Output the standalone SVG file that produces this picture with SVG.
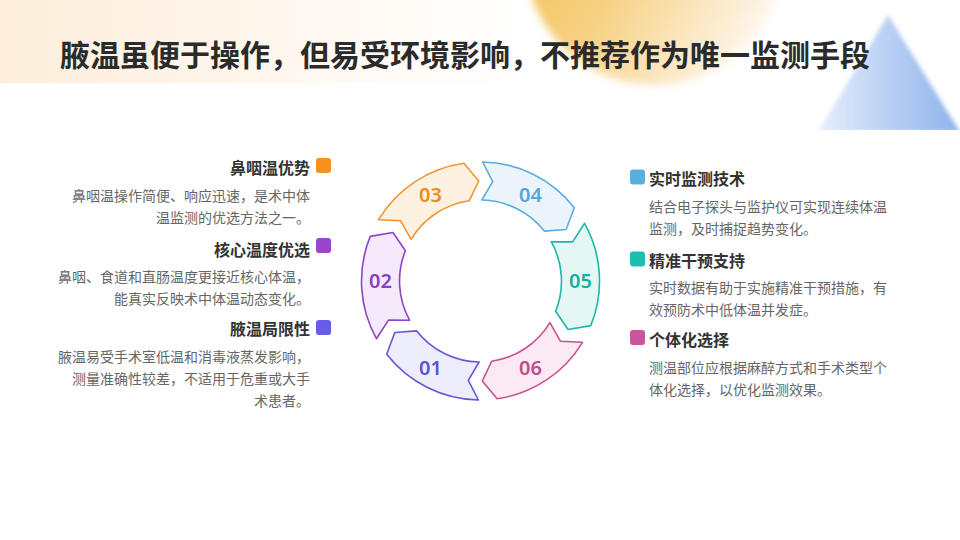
<svg xmlns="http://www.w3.org/2000/svg" width="960" height="540" viewBox="0 0 960 540">
<defs>
<linearGradient id="band" x1="0" y1="0" x2="1" y2="0">
<stop offset="0" stop-color="#fdeedb"/>
<stop offset="0.3" stop-color="#fff7ef"/>
<stop offset="0.55" stop-color="#ffffff"/>
</linearGradient>
<linearGradient id="orange" x1="0" y1="0.2" x2="1" y2="0.8">
<stop offset="0" stop-color="#f2b944"/>
<stop offset="0.45" stop-color="#f7d285"/>
<stop offset="0.8" stop-color="#fcecd0"/>
<stop offset="1" stop-color="#ffffff"/>
</linearGradient>
<linearGradient id="blue" x1="0" y1="0" x2="1" y2="0">
<stop offset="0" stop-color="#e6eefb"/>
<stop offset="0.5" stop-color="#b9cff3"/>
<stop offset="1" stop-color="#8db3ec"/>
</linearGradient>
<filter id="blur" x="-20%" y="-20%" width="140%" height="140%"><feGaussianBlur stdDeviation="4"/></filter>
<filter id="blur2" x="-20%" y="-20%" width="140%" height="140%"><feGaussianBlur stdDeviation="2"/></filter>
<clipPath id="triClip"><rect x="700" y="0" width="260" height="130"/></clipPath>
<style>
.seg{stroke-width:1.6;stroke-linejoin:round}
.num{font-family:"Noto Sans","Noto Sans CJK SC",sans-serif;font-size:20px;font-weight:600;text-anchor:middle}
.h{font-family:"Noto Sans CJK SC",sans-serif;font-size:16px;font-weight:700;fill:#333333}
.d{font-family:"Noto Sans CJK SC",sans-serif;font-size:14px;fill:#666666}
.l{text-anchor:end}
.title{font-family:"Noto Sans CJK SC",sans-serif;font-size:30px;font-weight:700;fill:#2b2b2b}
</style>
</defs>

<rect x="0" y="0" width="960" height="540" fill="#ffffff"/>
<rect x="0" y="0" width="960" height="83" fill="url(#band)"/>
<circle cx="655" cy="-45" r="130" fill="url(#orange)" filter="url(#blur)"/>
<g clip-path="url(#triClip)">
<polygon points="888,15 818,132 960,132" fill="url(#blue)" filter="url(#blur2)"/>
</g>

<text class="title" x="60" y="65.5">腋温虽便于操作，但易受环境影响，不推荐作为唯一监测手段</text>

<g id="ring">
<g id="seg01">
<path class="seg" fill="#eeedfb" stroke="#6358d6" d="M478.4,400.0 A119,119 0 0 1 386.7,354.3 L394.8,332.5 L416.7,330.9 A81,81 0 0 0 479.1,362.0 L468.3,380.3 Z"/>
<text class="num" x="430.5" y="375" fill="#5b52cf">01</text>
</g>
<g id="seg02">
<path class="seg" fill="#f4eafb" stroke="#8d45c6" d="M376.4,338.7 A119,119 0 0 1 370.2,236.4 L393.0,232.5 L405.4,250.7 A81,81 0 0 0 409.7,320.3 L388.5,320.1 Z"/>
<text class="num" x="380.5" y="288.4" fill="#8a3fc3">02</text>
</g>
<g id="seg03">
<path class="seg" fill="#fdf1e2" stroke="#f09530" d="M378.5,219.7 A119,119 0 0 1 463.9,163.2 L478.8,181.0 L469.2,200.8 A81,81 0 0 0 411.1,239.3 L400.6,220.8 Z"/>
<text class="num" x="430.5" y="201.8" fill="#ef8b1e">03</text>
</g>
<g id="seg04">
<path class="seg" fill="#ebf4fb" stroke="#5caddf" d="M482.6,162.0 A119,119 0 0 1 574.3,207.7 L566.2,229.5 L544.3,231.1 A81,81 0 0 0 481.9,200.0 L492.7,181.7 Z"/>
<text class="num" x="530.5" y="201.8" fill="#58a5da">04</text>
</g>
<g id="seg05">
<path class="seg" fill="#e5f7f5" stroke="#1cb7a8" d="M584.6,223.3 A119,119 0 0 1 590.8,325.6 L568.0,329.5 L555.6,311.3 A81,81 0 0 0 551.3,241.7 L572.6,241.9 Z"/>
<text class="num" x="580.5" y="288.4" fill="#17b0a1">05</text>
</g>
<g id="seg06">
<path class="seg" fill="#fbeaf3" stroke="#c8528f" d="M582.5,342.3 A119,119 0 0 1 497.1,398.8 L482.3,381.0 L491.8,361.2 A81,81 0 0 0 549.9,322.7 L560.4,341.2 Z"/>
<text class="num" x="530.5" y="375" fill="#c04b8b">06</text>
</g>
</g>

<g id="item-nasopharynx">
<rect x="316" y="158" width="15" height="15" rx="3" fill="#f5921f"/>
<text class="h l" x="310" y="173.5">鼻咽温优势</text>
<text class="d l" x="310" y="200.8">鼻咽温操作简便、响应迅速，是术中体</text>
<text class="d l" x="310" y="222.8">温监测的优选方法之一。</text>
</g>
<g id="item-core">
<rect x="316" y="238" width="15" height="15" rx="3" fill="#9b45cc"/>
<text class="h l" x="310" y="255.5">核心温度优选</text>
<text class="d l" x="310" y="282">鼻咽、食道和直肠温度更接近核心体温，</text>
<text class="d l" x="310" y="304">能真实反映术中体温动态变化。</text>
</g>
<g id="item-axillary">
<rect x="316" y="320" width="15" height="15" rx="3" fill="#675ce8"/>
<text class="h l" x="310" y="335">腋温局限性</text>
<text class="d l" x="310" y="362">腋温易受手术室低温和消毒液蒸发影响，</text>
<text class="d l" x="310" y="384">测量准确性较差，不适用于危重或大手</text>
<text class="d l" x="310" y="406">术患者。</text>
</g>

<g id="item-realtime">
<rect x="630" y="169.5" width="15" height="15" rx="3" fill="#5aafe1"/>
<text class="h" x="649" y="185">实时监测技术</text>
<text class="d" x="649" y="212">结合电子探头与监护仪可实现连续体温</text>
<text class="d" x="649" y="234.3">监测，及时捕捉趋势变化。</text>
</g>
<g id="item-precise">
<rect x="630" y="251.5" width="15" height="15" rx="3" fill="#1bbfb1"/>
<text class="h" x="649" y="266.5">精准干预支持</text>
<text class="d" x="649" y="293">实时数据有助于实施精准干预措施，有</text>
<text class="d" x="649" y="315">效预防术中低体温并发症。</text>
</g>
<g id="item-individual">
<rect x="630" y="330" width="15" height="15" rx="3" fill="#c9559b"/>
<text class="h" x="649" y="346">个体化选择</text>
<text class="d" x="649" y="373">测温部位应根据麻醉方式和手术类型个</text>
<text class="d" x="649" y="395.3">体化选择，以优化监测效果。</text>
</g>
</svg>
